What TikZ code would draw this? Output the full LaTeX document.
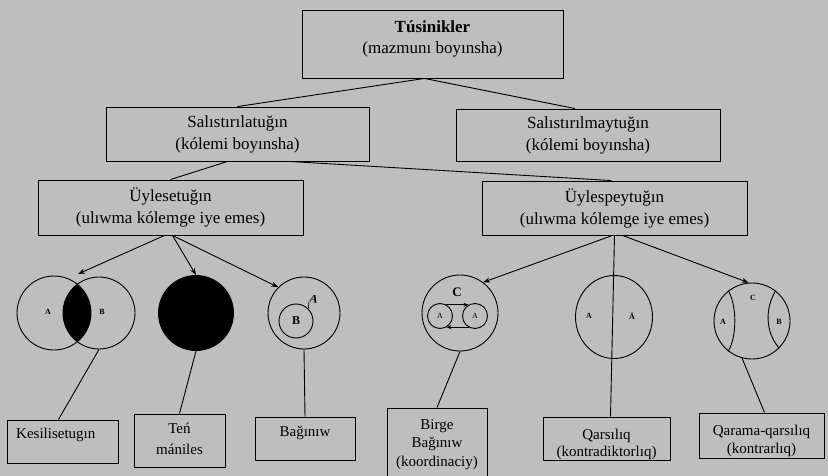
\documentclass[tikz,border=0pt]{standalone}
\usepackage{fontspec}
\setmainfont{Liberation Serif}
\usetikzlibrary{arrows.meta,calc,shapes.geometric}
\definecolor{bg}{RGB}{190,190,190}
\begin{document}
\begin{tikzpicture}[x=1pt,y=-1pt,
  box/.style={draw, line width=0.9pt, inner sep=0pt, align=center, font=\fontsize{17}{22}\selectfont},
  bbox/.style={draw, line width=0.9pt, inner sep=0pt},
  btxt/.style={inner sep=0pt, align=center, font=\fontsize{15}{18}\selectfont},
  ln/.style={line width=0.9pt},
  arr/.style={line width=0.9pt, -{Stealth[length=7pt,width=5pt]}},
  sarr/.style={line width=0.8pt, -{Stealth[length=5pt,width=4pt]}},
  circ/.style={circle, draw, line width=0.9pt, inner sep=0pt},
  lab/.style={inner sep=0pt, font=\fontsize{8}{8}\selectfont\bfseries},
]
\fill[bg] (0,0) rectangle (828,476);
\useasboundingbox (0,0) rectangle (828,476);

% top level boxes
\node[box, minimum width=261pt, minimum height=68pt] (top) at (432.5,44) {};
\node[inner sep=0pt, align=center, font=\fontsize{17}{21}\selectfont] (topt) at (432.5,39) {\textbf{Túsinikler}\\(mazmunı boyınsha)};
\node[box, minimum width=263pt, minimum height=54pt] (sal) at (237.5,134) {Salıstırılatuğın\\(kólemi boyınsha)};
\node[box, minimum width=264pt, minimum height=52pt] (salm) at (588,135) {Salıstırılmaytuğın\\(kólemi boyınsha)};
\node[box, minimum width=265pt, minimum height=55pt] (uyl) at (170.5,207.5) {Üylesetuğın\\(ulıwma kólemge iye emes)};
\node[box, minimum width=265pt, minimum height=54pt] (uylp) at (614.5,208) {Üylespeytuğın\\(ulıwma kólemge iye emes)};

\draw[ln] ($(top.south)+(-8,0)$) -- (sal.north);
\draw[ln] ($(top.south)+(-8,0)$) -- ($(salm.north)+(-13,0)$);
\draw[ln] ($(sal.south)+(-10,0)$) -- (uyl.north);
\draw[ln] ($(sal.south)+(52,0)$) -- ($(uylp.north)+(-3,0)$);

% Venn (intersecting)
\begin{scope}
  \clip (54,313) circle[radius=37pt];
  \fill[black] (99,313) circle[radius=36pt];
\end{scope}
\node[circ, minimum size=74pt] (venA) at (54,313) {};
\node[circ, minimum size=72pt] (venB) at (99,313) {};
\node[lab] (la) at (48,312) {A};
\node[lab] (lb) at (102,312) {B};
\coordinate (venT) at (78,274);
\draw[arr] ($(uyl.south)+(-6,0)$) -- (venT);

% equal
\node[circ, fill=black, minimum size=75pt] (blk) at (196,313) {};
\draw[arr] ($(uyl.south)+(2,0)$) -- (blk.north);

% subordinate
\node[circ, minimum size=72pt] (bagO) at (304,313) {};
\node[circ, minimum size=34pt] (bagI) at (296,321) {};
\node[inner sep=0pt, font=\fontsize{12}{12}\selectfont\bfseries] (lB) at (296,321) {B};
\node[inner sep=0pt, font=\fontsize{11}{11}\selectfont\bfseries, rotate=-15] (lA2) at (314,299) {A};
\draw[line width=0.7pt] (bagI.45) -- (lA2.south west);
\draw[arr] ($(uyl.south)+(2,0)$) -- (bagO.135);

% bottom-left boxes
\node[bbox, minimum width=111pt, minimum height=43pt] (kes) at (62.5,441.5) {};
\node[btxt, anchor=west] (kest) at (16,435) {Kesilisetugın};
\node[bbox, minimum width=91pt, minimum height=53pt] (ten) at (179.5,440.5) {};
\node[btxt, font=\fontsize{15}{21}\selectfont] (tent) at (179.5,438.5) {Teń\\mániles};
\node[bbox, minimum width=100pt, minimum height=43pt] (bag) at (305,438.5) {};
\node[btxt] (bagt) at (305,433) {Bağınıw};
\draw[ln] (venB.south) -- ($(kes.north)+(-4,0)$);
\draw[ln] (blk.south) -- (ten.north);
\draw[ln] (bagO.south) -- (bag.north);

% coordination
\node[circ, minimum size=76pt] (birO) at (460,313) {};
\node[circ, minimum size=25pt] (bA) at (440,316) {};
\node[circ, minimum size=25pt] (bB) at (475,316) {};
\node[inner sep=0pt, font=\fontsize{8}{8}\selectfont] (bAl) at (440,316) {A};
\node[inner sep=0pt, font=\fontsize{8}{8}\selectfont] (bBl) at (475,316) {A};
\node[inner sep=0pt, font=\fontsize{13}{13}\selectfont\bfseries] (lC) at (457,292) {C};
\draw[sarr] (bA.60) -- (bB.120);
\draw[sarr] (bB.240) -- (bA.300);
\draw[arr] ($(uylp.south)+(-2,0)$) -- (birO.53);

% contradictory
\node[draw, ellipse, line width=0.9pt, inner sep=0pt, minimum width=77pt, minimum height=83pt] (qsO) at (614,317) {};
\node[lab] (qa) at (589,316) {A};
\node[lab] (qb) at (632,316) {Ā};

% contrary
\node[circ, minimum size=76pt] (qarO) at (752,321) {};
\draw[ln] (qarO.128) .. controls (737,306) and (737,336) .. (qarO.232);
\draw[ln] (qarO.52) .. controls (765,308) and (765,332) .. (qarO.-45);
\node[lab] (ca) at (723,322) {A};
\node[lab] (cb) at (779,322) {B};
\node[lab] (cc) at (753,298) {C};
\draw[arr] ($(uylp.south)+(8,0)$) -- (qarO.95);

% bottom-right boxes
\node[bbox, minimum width=100pt, minimum height=72pt] (birge) at (437,444) {};
\node[btxt, font=\fontsize{15}{18.5}\selectfont] (birget) at (437,444.5) {Birge\\Bağınıw\\(koordinaciy)};
\node[bbox, minimum width=127pt, minimum height=43pt] (qars) at (606.5,438.5) {};
\node[btxt, font=\fontsize{15}{17}\selectfont] (qarst) at (606.5,444.5) {Qarsılıq\\(kontradiktorlıq)};
\node[bbox, minimum width=125pt, minimum height=45pt] (qarama) at (761.5,435.5) {};
\node[btxt, font=\fontsize{15}{18}\selectfont] (qaramat) at (761.5,441) {Qarama-qarsılıq\\(kontrarlıq)};

\draw[ln] (birO.south) -- (birge.north);
\draw[ln] (uylp.south) -- ($(qars.north)+(4,0)$);
\draw[ln] (qarO.255) -- ($(qarama.north)+(3,0)$);
\end{tikzpicture}
\end{document}
